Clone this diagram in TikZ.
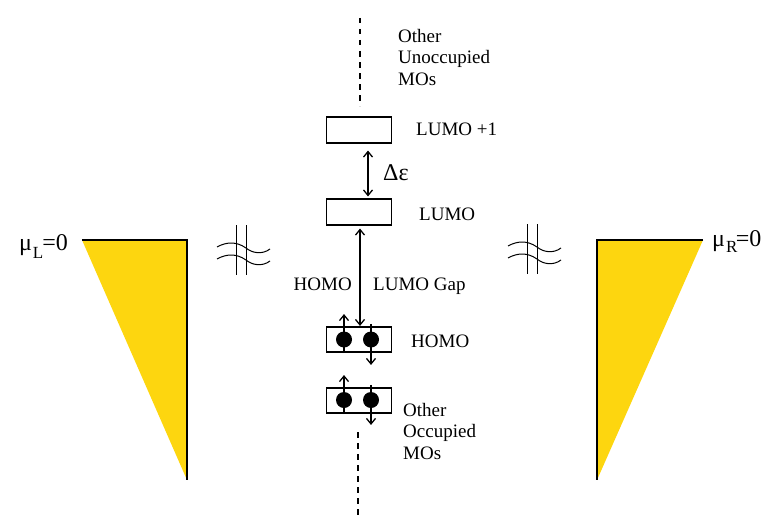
\documentclass[tikz,border=0pt]{standalone}
\usepackage{fontspec}
\setmainfont{Liberation Serif}
\usetikzlibrary{arrows.meta}
\definecolor{fermi}{RGB}{253,214,15}
\begin{document}
\begin{tikzpicture}[x=1pt,y=-1pt,
  lvl/.style={draw,line width=1.6pt,minimum width=65pt,minimum height=25.5pt,inner sep=0pt},
  elec/.style={circle,fill=black,minimum size=16pt,inner sep=0pt},
  lbl/.style={inner sep=0pt,font=\fontsize{19}{21.5}\selectfont,align=left},
  arr/.style={line width=1.3pt,-{Straight Barb[length=5.5pt,width=9pt]}},
  darr/.style={line width=1.3pt,{Straight Barb[length=5.5pt,width=9pt]}-{Straight Barb[length=5.5pt,width=9pt]}},
  dsh/.style={line width=1.5pt,dash pattern=on 5.5pt off 5.5pt},
  brk/.pic={
    \draw[line width=1pt] (-5,-25) -- (-5,25) (5,-25) -- (5,25);
    \foreach \dy in {0,12}{
      \draw[line width=1pt] (-24,-3+\dy) .. controls (-15,-8+\dy) and (-5,-9+\dy) .. (5,-2+\dy)
        .. controls (11,3+\dy) and (21,5+\dy) .. (29,-1+\dy);
    }
  }]
\useasboundingbox (0,0) rectangle (767,519);

% reservoirs
\fill[fermi] (82,240) -- (187,240) -- (187,480) -- cycle;
\draw[line width=2pt] (82,240) -- (187,240) -- (187,480);
\fill[fermi] (597,240) -- (703,240) -- (597,480) -- cycle;
\draw[line width=2pt] (703,240) -- (597,240) -- (597,480);

\node[lbl,anchor=base east,font=\fontsize{24}{24}\selectfont] (muL) at (68,250)
  {μ\kern1pt\raisebox{-8pt}{\fontsize{17}{17}\selectfont L}\kern-1pt=0};
\node[lbl,anchor=base west,font=\fontsize{24}{24}\selectfont] (muR) at (712,246)
  {μ\kern1pt\raisebox{-6pt}{\fontsize{17}{17}\selectfont R}\kern-1.5pt=0};

% breaks
\pic at (241,250) {brk};
\pic at (532,249) {brk};

% levels
\node[lvl] (lumoone) at (359,130) {};
\node[lvl] (lumo) at (359,212) {};
\node[lvl] (homo) at (359,339.5) {};
\node[lvl] (othr) at (359,400.5) {};

\node[elec] (h1) at (344,339.5) {};
\node[elec] (h2) at (371,339.5) {};
\node[elec] (o1) at (344,400) {};
\node[elec] (o2) at (371,400) {};

\draw[arr] (h1 |- homo.south) -- ++(0,-39);
\draw[arr] ([yshift=2pt]h2 |- homo.north) -- ++(0,41);
\draw[arr] (o1 |- othr.south) -- ++(0,-39);
\draw[arr] ([yshift=2pt]o2 |- othr.north) -- ++(0,40);

\draw[darr] ([xshift=9pt,yshift=-7pt]lumoone.south) -- ([xshift=9pt,yshift=2pt]lumo.north);
\draw[darr] ([xshift=1pt,yshift=-3pt]lumo.south) -- ([xshift=1pt]homo.north);

% dashed continuations
\coordinate (dt1) at (360,18);
\coordinate (dt2) at (360,106);
\coordinate (db1) at (358,432);
\coordinate (db2) at (358,519);
\draw[dsh] (dt1) -- (dt2);
\draw[dsh] (db1) -- (db2);

% labels
\node[lbl,anchor=north west] (tunocc) at (398,29) {Other\\Unoccupied\\MOs};
\node[lbl,anchor=base west] (tlumoone) at (416,135) {LUMO +1};
\node[lbl,anchor=base west,font=\fontsize{24}{24}\selectfont] (tde) at (383,180) {Δε};
\node[lbl,anchor=base west] (tlumo) at (419,220) {LUMO};
\node[lbl,anchor=base east] (tgapl) at (352,290) {HOMO};
\node[lbl,anchor=base west] (tgapr) at (373,290) {LUMO Gap};
\node[lbl,anchor=base west] (thomo) at (411,347) {HOMO};
\node[lbl,anchor=north west] (tocc) at (403,403) {Other\\Occupied\\MOs};
\end{tikzpicture}
\end{document}
